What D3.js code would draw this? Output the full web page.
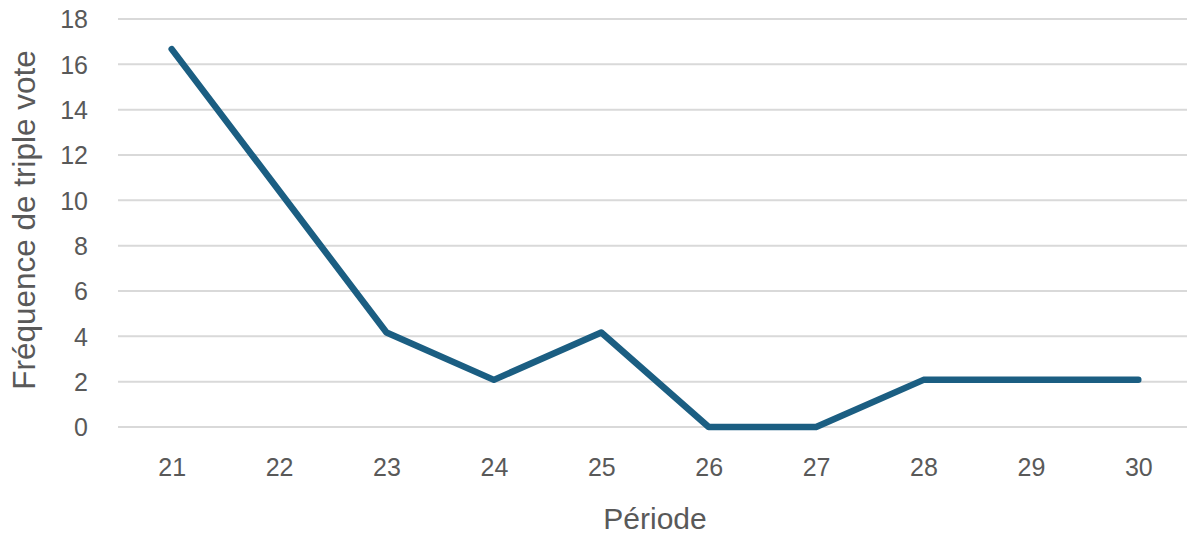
<!DOCTYPE html>
<html>
<head>
<meta charset="utf-8">
<script src="https://cdn.jsdelivr.net/npm/d3@7"></script>
<style>
  html, body { margin: 0; padding: 0; background: #fff; }
  svg { display: block; font-family: "Liberation Sans", Arial, sans-serif; }
</style>
</head>
<body>
<svg id="chart" width="1187" height="535"></svg>
<script>
// Fréquence de triple vote par période (%)
const periods = ["21", "22", "23", "24", "25", "26", "27", "28", "29", "30"];
const frequency = [16.67, 10.42, 4.17, 2.08, 4.17, 0, 0, 2.08, 2.08, 2.08];
const yTicks = [0, 2, 4, 6, 8, 10, 12, 14, 16, 18];

const svg = d3.select("#chart");
const W = 1187, H = 535;
const plot = { left: 118, right: 1192, top: 19, bottom: 427 };

const x = d3.scalePoint()
  .domain(periods)
  .range([plot.left, plot.right])
  .padding(0.5);

const y = d3.scaleLinear()
  .domain([0, 18])
  .range([plot.bottom, plot.top]);

// horizontal gridlines
svg.append("g")
  .selectAll("line")
  .data(yTicks)
  .join("line")
  .attr("x1", plot.left)
  .attr("x2", W)
  .attr("y1", d => y(d))
  .attr("y2", d => y(d))
  .attr("stroke", "#d9d9d9")
  .attr("stroke-width", 2);

// y axis labels
const yAxis = d3.axisLeft(y).tickValues(yTicks).tickSize(0).tickPadding(0);
const gy = svg.append("g")
  .attr("transform", `translate(${88},0)`)
  .call(yAxis);
gy.select(".domain").remove();
gy.selectAll("text")
  .attr("fill", "#595959")
  .attr("font-size", 25)
  .attr("font-family", "Liberation Sans, Arial, sans-serif")
  .attr("dy", "0.35em");

// x axis labels
const xAxis = d3.axisBottom(x).tickSize(0).tickPadding(0);
const gx = svg.append("g")
  .attr("transform", `translate(0,${458})`)
  .call(xAxis);
gx.select(".domain").remove();
gx.selectAll("text")
  .attr("fill", "#595959")
  .attr("font-size", 25)
  .attr("font-family", "Liberation Sans, Arial, sans-serif")
  .attr("dy", "0.71em");

// series line
const line = d3.line()
  .x((d, i) => x(periods[i]))
  .y(d => y(d));

svg.append("path")
  .datum(frequency)
  .attr("d", line)
  .attr("fill", "none")
  .attr("stroke", "#1b5e82")
  .attr("stroke-width", 6.5)
  .attr("stroke-linejoin", "round")
  .attr("stroke-linecap", "round");

// axis titles
svg.append("text")
  .attr("x", 655)
  .attr("y", 529)
  .attr("text-anchor", "middle")
  .attr("fill", "#595959")
  .attr("font-size", 30)
  .text("Période");

svg.append("text")
  .attr("transform", `translate(35,${220}) rotate(-90)`)
  .attr("text-anchor", "middle")
  .attr("fill", "#595959")
  .attr("font-size", 31.5)
  .text("Fréquence de triple vote");
</script>
</body>
</html>
